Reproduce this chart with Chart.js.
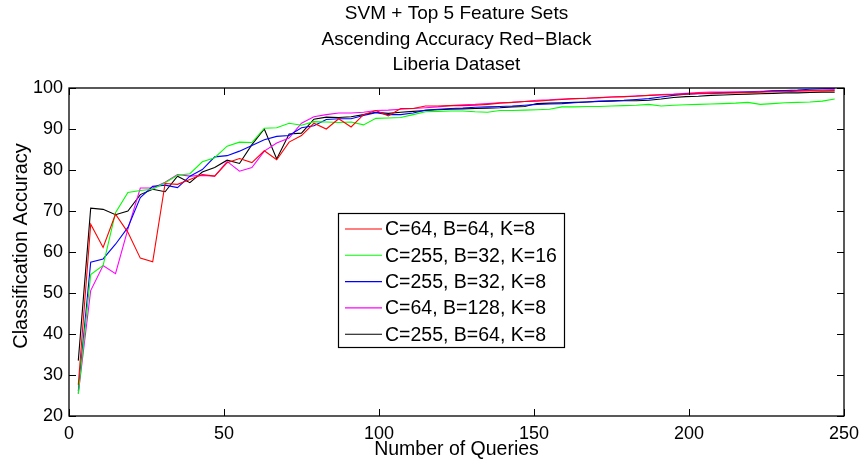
<!DOCTYPE html>
<html>
<head>
<meta charset="utf-8">
<script src="https://cdn.jsdelivr.net/npm/chart.js@4/dist/chart.umd.min.js"></script>
<style>
html,body{margin:0;padding:0;background:#fff;}
#wrap{width:860px;height:462px;}
</style>
</head>
<body>
<div id="wrap"><canvas id="c" width="860" height="462"></canvas></div>
<script>
const titleLines = ["SVM + Top 5 Feature Sets", "Ascending Accuracy Red\u2212Black", "Liberia Dataset"];
const xTitle = "Number of Queries";
const yTitle = "Classification Accuracy";
const xTicks = [0, 50, 100, 150, 200, 250];
const yTicks = [20, 30, 40, 50, 60, 70, 80, 90, 100];

const queries = [3,7,11,15,19,23,27,31,35,39,43,47,51,55,59,63,67,71,75,79,83,87,91,95,99,103,107,111,115,119,123,127,131,135,139,143,147,151,155,159,163,167,171,175,179,183,187,191,195,199,203,207,211,215,219,223,227,231,235,239,243,247];

const seriesLabels = ["C=64, B=64, K=8", "C=255, B=32, K=16", "C=255, B=32, K=8", "C=64, B=128, K=8", "C=255, B=64, K=8"];

const accC64B64K8 = [27.6,66.8,61.1,69.2,64.8,58.5,57.6,76.7,76.5,77.7,78.9,78.5,81.8,82.8,81.8,84.7,82.5,86.8,88.4,91.4,90.0,92.5,90.5,93.5,94.5,93.2,95.0,95.0,95.6,95.6,95.7,95.7,95.8,96.0,96.3,96.5,96.7,96.8,97.0,97.2,97.4,97.5,97.7,97.8,97.9,98.0,98.2,98.3,98.4,98.5,98.7,98.7,98.8,98.8,98.9,99.0,99.1,99.1,99.2,99.3,99.3,99.4];
const accC255B32K16 = [25.4,54.5,56.7,69.6,74.5,75.0,75.3,76.9,78.7,79.1,82.0,83.0,85.8,86.8,86.7,90.2,90.3,91.4,90.9,91.8,91.7,91.6,91.7,91.0,92.6,92.7,92.8,93.5,94.2,94.3,94.4,94.4,94.2,94.1,94.5,94.5,94.6,94.7,94.8,95.4,95.4,95.5,95.5,95.6,95.7,95.8,96.0,95.6,95.8,95.9,96.0,96.1,96.2,96.3,96.5,96.0,96.2,96.4,96.5,96.6,96.8,97.3];
const accC255B32K8 = [26.0,57.5,58.3,61.9,66.0,73.3,76.0,76.3,75.7,78.5,80.1,83.2,83.5,84.6,86.0,87.4,88.2,88.4,90.3,90.8,92.3,92.5,92.5,93.3,94.0,93.5,93.5,93.9,94.6,94.8,95.0,95.1,95.3,95.4,95.5,95.6,95.8,96.0,96.1,96.2,96.4,96.6,96.8,96.9,97.0,97.2,97.4,97.8,98.2,98.5,98.6,98.7,98.8,98.9,99.0,99.1,99.3,99.4,99.5,99.7,99.8,99.9];
const accC64B128K8 = [25.5,50.6,56.7,54.7,65.6,75.6,75.6,77.0,78.9,78.5,78.7,78.5,82.1,79.7,80.6,84.6,86.6,87.8,91.4,93.0,93.5,93.9,93.9,94.1,94.5,94.6,94.8,95.0,95.2,95.4,95.7,95.9,96.0,96.2,96.4,96.5,96.7,97.0,97.1,97.3,97.4,97.5,97.6,97.8,97.9,98.1,98.2,98.4,98.5,98.7,98.9,99.0,99.0,99.1,99.1,99.2,99.3,99.3,99.4,99.4,99.5,99.6];
const accC255B64K8 = [33.5,70.7,70.4,69.1,70.0,74.0,75.3,74.7,78.5,76.9,79.5,80.6,82.4,81.6,86.2,90.0,82.7,88.8,89.0,92.4,92.9,92.8,93.0,93.5,94.1,93.8,94.1,94.3,94.5,94.7,94.8,94.9,95.0,95.1,95.2,95.4,95.5,96.2,96.3,96.4,96.5,96.6,96.7,96.8,96.9,96.9,97.0,97.3,97.7,97.9,98.0,98.2,98.3,98.4,98.5,98.6,98.7,98.8,98.8,98.9,99.0,99.0];

const seriesValues = [accC64B64K8, accC255B32K16, accC255B32K8, accC64B128K8, accC255B64K8];
const seriesColors = ["#ff0000", "#00ff00", "#0000ff", "#ff00ff", "#000000"];

const FONT = "'Liberation Sans', Arial, Helvetica, sans-serif";

const datasets = seriesValues.map((vals, i) => ({
  label: seriesLabels[i],
  data: queries.map((q, j) => ({x: q, y: vals[j]})),
  borderColor: seriesColors[i],
  backgroundColor: seriesColors[i],
  borderWidth: 1.1,
  pointRadius: 0,
  tension: 0,
  fill: false
}));

const decor = {
  id: 'decor',
  afterDraw(chart) {
    const ctx = chart.ctx;
    const a = chart.chartArea;
    const xs = chart.scales.x, ys = chart.scales.y;
    ctx.save();
    ctx.strokeStyle = '#000';
    ctx.lineWidth = 1.3;
    ctx.strokeRect(a.left, a.top, a.right - a.left, a.bottom - a.top);
    ctx.lineWidth = 1;
    const tl = 7;
    ctx.beginPath();
    xTicks.forEach(v => {
      const px = Math.round(xs.getPixelForValue(v)) + 0.5;
      ctx.moveTo(px, a.bottom); ctx.lineTo(px, a.bottom - tl);
      ctx.moveTo(px, a.top); ctx.lineTo(px, a.top + tl);
    });
    yTicks.forEach(v => {
      const py = Math.round(ys.getPixelForValue(v)) + 0.5;
      ctx.moveTo(a.left, py); ctx.lineTo(a.left + tl, py);
      ctx.moveTo(a.right, py); ctx.lineTo(a.right - tl, py);
    });
    ctx.stroke();
    ctx.fillStyle = '#000';
    ctx.textAlign = 'center';
    ctx.textBaseline = 'middle';
    const cx = (a.left + a.right) / 2;
    ctx.font = '19px ' + FONT;
    titleLines.forEach((t, i) => ctx.fillText(t, cx, 14 + i * 25.5));
    ctx.font = '19.5px ' + FONT;
    ctx.fillText(xTitle, cx, 450);
    ctx.save();
    ctx.translate(21, (a.top + a.bottom) / 2 - 6);
    ctx.rotate(-Math.PI / 2);
    ctx.font = '20px ' + FONT;
    ctx.fillText(yTitle, 0, 0);
    ctx.restore();
    // legend
    const lx = 338, ly = 213, lw = 226, lh = 134;
    ctx.fillStyle = '#fff';
    ctx.fillRect(lx, ly, lw, lh);
    ctx.strokeStyle = '#000';
    ctx.lineWidth = 1.2;
    ctx.strokeRect(lx + 0.5, ly + 0.5, lw, lh);
    ctx.font = '19.5px ' + FONT;
    ctx.textAlign = 'left';
    ctx.textBaseline = 'middle';
    chart.data.datasets.forEach((ds, i) => {
      const yy = ly + 16 + i * 26.3;
      ctx.strokeStyle = ds.borderColor;
      ctx.lineWidth = 1.1;
      ctx.beginPath();
      ctx.moveTo(lx + 7, yy); ctx.lineTo(lx + 44, yy);
      ctx.stroke();
      ctx.fillStyle = '#000';
      ctx.fillText(ds.label, lx + 47, yy + 1);
    });
    ctx.restore();
  }
};

new Chart(document.getElementById('c'), {
  type: 'line',
  data: { datasets },
  options: {
    responsive: false,
    animation: false,
    devicePixelRatio: 1,
    layout: { padding: { top: 88, right: 16, left: 0, bottom: 0 } },
    plugins: { legend: { display: false }, title: { display: false }, tooltip: { enabled: false } },
    scales: {
      x: {
        type: 'linear', min: 0, max: 250,
        afterBuildTicks: s => { s.ticks = xTicks.map(v => ({value: v})); },
        afterFit: s => { s.height = 46; s.paddingLeft = 0; s.paddingRight = 0; },
        grid: { display: false, drawTicks: false },
        border: { display: false },
        ticks: { padding: 7, maxRotation: 0, autoSkip: false, color: '#000', font: { family: FONT, size: 18 } }
      },
      y: {
        type: 'linear', min: 20, max: 100,
        afterBuildTicks: s => { s.ticks = yTicks.map(v => ({value: v})); },
        afterFit: s => { s.width = 69; s.paddingTop = 0; s.paddingBottom = 0; },
        grid: { display: false, drawTicks: false },
        border: { display: false },
        ticks: { padding: 6, autoSkip: false, color: '#000', font: { family: FONT, size: 18 } }
      }
    }
  },
  plugins: [decor]
});
</script>
</body>
</html>
